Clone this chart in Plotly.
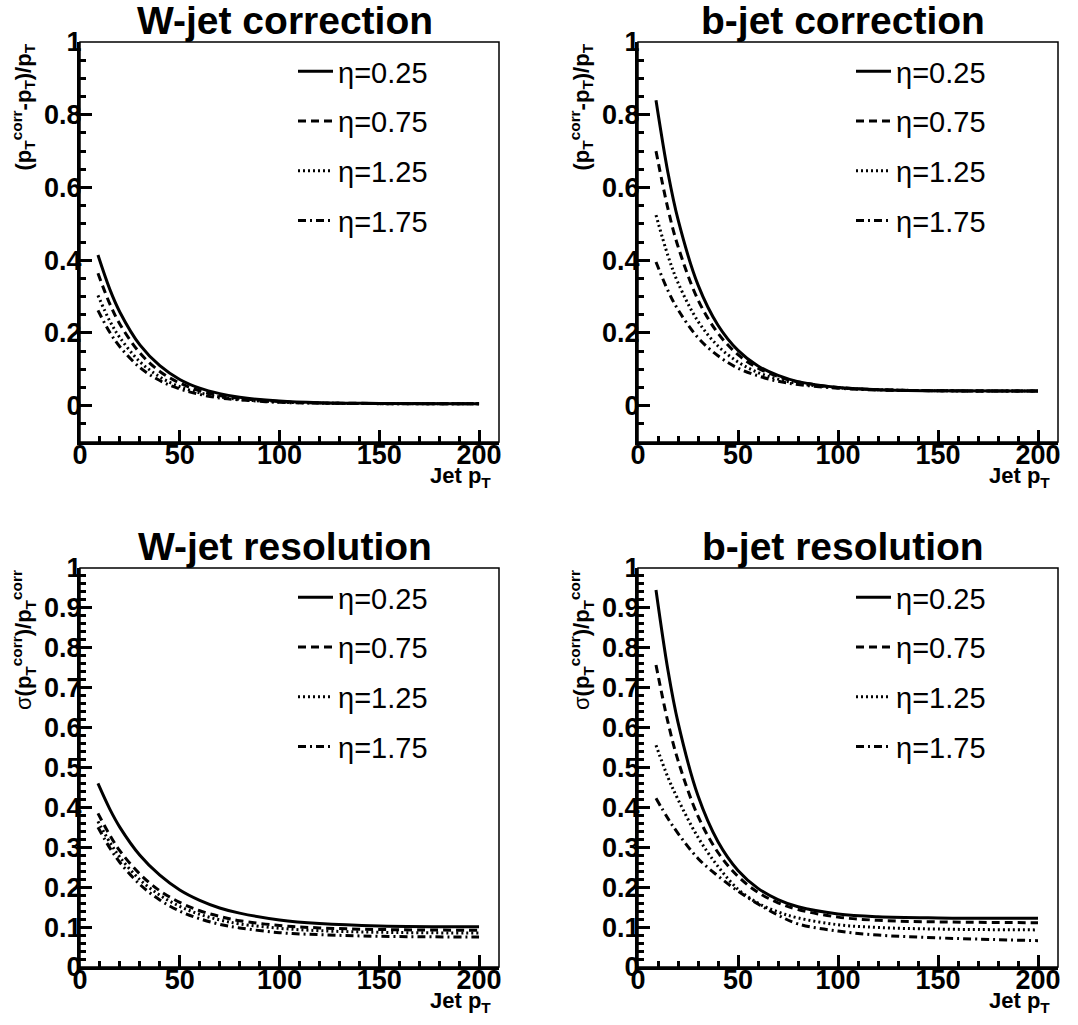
import plotly.graph_objects as go

# ---------------- data ----------------
pt = [9, 15, 20, 30, 40, 50, 60, 70, 80, 100, 120, 150, 200]
eta_labels = ["η=0.25", "η=0.75", "η=1.25", "η=1.75"]

# W-jet correction  (pT_corr - pT)/pT
wcorr_eta025 = [0.414, 0.319, 0.257, 0.167, 0.110, 0.072, 0.048, 0.033, 0.023, 0.0125, 0.008, 0.006, 0.005]
wcorr_eta075 = [0.364, 0.279, 0.224, 0.145, 0.094, 0.062, 0.041, 0.028, 0.020, 0.011, 0.0074, 0.006, 0.005]
wcorr_eta125 = [0.303, 0.232, 0.187, 0.121, 0.079, 0.052, 0.035, 0.024, 0.017, 0.010, 0.007, 0.0055, 0.005]
wcorr_eta175 = [0.262, 0.201, 0.162, 0.105, 0.069, 0.046, 0.031, 0.021, 0.016, 0.009, 0.007, 0.0055, 0.005]

# b-jet correction
bcorr_eta025 = [0.840, 0.640, 0.512, 0.332, 0.221, 0.152, 0.109, 0.083, 0.066, 0.050, 0.044, 0.041, 0.040]
bcorr_eta075 = [0.700, 0.541, 0.438, 0.291, 0.199, 0.140, 0.103, 0.080, 0.065, 0.050, 0.044, 0.041, 0.040]
bcorr_eta125 = [0.524, 0.412, 0.338, 0.232, 0.164, 0.120, 0.091, 0.073, 0.061, 0.049, 0.044, 0.041, 0.040]
bcorr_eta175 = [0.395, 0.316, 0.264, 0.187, 0.137, 0.103, 0.082, 0.067, 0.058, 0.048, 0.043, 0.041, 0.040]

# W-jet resolution  sigma(pT_corr)/pT_corr
wres_eta025 = [0.460, 0.395, 0.350, 0.280, 0.230, 0.193, 0.167, 0.148, 0.135, 0.118, 0.109, 0.103, 0.101]
wres_eta075 = [0.385, 0.330, 0.291, 0.233, 0.191, 0.162, 0.141, 0.127, 0.116, 0.104, 0.098, 0.094, 0.092]
wres_eta125 = [0.365, 0.312, 0.275, 0.219, 0.180, 0.152, 0.132, 0.118, 0.108, 0.097, 0.091, 0.087, 0.085]
wres_eta175 = [0.350, 0.298, 0.262, 0.207, 0.168, 0.140, 0.121, 0.107, 0.098, 0.086, 0.081, 0.077, 0.075]

# b-jet resolution
bres_eta025 = [0.945, 0.743, 0.613, 0.429, 0.314, 0.242, 0.197, 0.169, 0.151, 0.133, 0.126, 0.123, 0.122]
bres_eta075 = [0.757, 0.613, 0.518, 0.378, 0.287, 0.227, 0.187, 0.161, 0.144, 0.125, 0.117, 0.113, 0.111]
bres_eta125 = [0.556, 0.475, 0.420, 0.325, 0.252, 0.195, 0.160, 0.138, 0.123, 0.106, 0.099, 0.095, 0.093]
bres_eta175 = [0.423, 0.372, 0.335, 0.272, 0.228, 0.190, 0.158, 0.130, 0.108, 0.090, 0.080, 0.073, 0.066]

panel_titles = ["W-jet correction", "b-jet correction", "W-jet resolution", "b-jet resolution"]
x_title = "<b>Jet p<sub>T</sub></b>"
y_title_corr = "<b>(p<sub>T</sub><sup>corr</sup>-p<sub>T</sub>)/p<sub>T</sub></b>"
y_title_res = "σ<b>(p<sub>T</sub><sup>corr</sup>)/p<sub>T</sub><sup>corr</sup></b>"

panels = [
    [wcorr_eta025, wcorr_eta075, wcorr_eta125, wcorr_eta175],
    [bcorr_eta025, bcorr_eta075, bcorr_eta125, bcorr_eta175],
    [wres_eta025, wres_eta075, wres_eta125, wres_eta175],
    [bres_eta025, bres_eta075, bres_eta125, bres_eta175],
]

# ---------------- styling ----------------
W, H = 1078, 1025
FONT = "Liberation Sans, Arial, Helvetica, sans-serif"
dashes = ["solid", "8px,5px", "2px,3px", "8px,4px,2px,4px"]

# plot frames in pixels (left, right, top, bottom)
frames = [(80, 499, 42, 442), (638, 1058, 42, 442),
          (80, 499, 568, 967), (638, 1058, 568, 967)]

def px_x(p):
    return p / W

def px_y(p):
    return 1 - p / H

fig = go.Figure()

for i, series in enumerate(panels):
    n = "" if i == 0 else str(i + 1)
    leg = "legend" if i == 0 else "legend" + str(i + 1)
    for j, ys in enumerate(series):
        fig.add_trace(go.Scatter(
            x=pt, y=ys, mode="lines",
            line=dict(color="black", width=3, dash=dashes[j], shape="spline", smoothing=1.0),
            name=eta_labels[j], legend=leg, legendgroup=f"g{i}{j}",
            xaxis="x" + n, yaxis="y" + n, showlegend=True,
        ))

layout = dict(
    width=W, height=H,
    margin=dict(l=0, r=0, t=0, b=0, autoexpand=False),
    paper_bgcolor="white", plot_bgcolor="white",
    font=dict(family=FONT, color="black"),
    showlegend=True,
)

tickfont = dict(family=FONT, size=27, color="black", weight="bold")

for i, (l, r, t, b) in enumerate(frames):
    n = "" if i == 0 else str(i + 1)
    top_row = i < 2
    layout["xaxis" + n] = dict(
        domain=[px_x(l), px_x(r)], anchor="y" + n, range=[0, 210],
        tick0=0, dtick=50, ticks="inside", ticklen=12, tickwidth=2.5, tickcolor="black",
        minor=dict(dtick=10, tick0=0, ticks="inside", ticklen=6, tickwidth=2.5, tickcolor="black"),
        showline=True, linewidth=3, linecolor="black", mirror=False,
        showgrid=False, zeroline=False, tickfont=tickfont, fixedrange=True,
        ticklabelstandoff=-13,
    )
    layout["yaxis" + n] = dict(
        domain=[px_y(b), px_y(t)], anchor="x" + n,
        range=[-0.1, 1.0] if top_row else [0, 1.0],
        tick0=0, dtick=0.2 if top_row else 0.1,
        ticks="inside", ticklen=12, tickwidth=2.5, tickcolor="black",
        minor=dict(dtick=0.05 if top_row else 0.02, tick0=0, ticks="inside",
                   ticklen=6, tickwidth=2.5, tickcolor="black"),
        showline=True, linewidth=3, linecolor="black", mirror=False,
        showgrid=False, zeroline=False, tickfont=tickfont, fixedrange=True,
        ticklabelstandoff=-10,
    )
    legkey = "legend" if i == 0 else "legend" + str(i + 1)
    layout[legkey] = dict(
        x=px_x(l + 213), y=px_y(t + 4), xanchor="left", yanchor="top",
        bgcolor="rgba(0,0,0,0)", borderwidth=0,
        font=dict(family=FONT, size=29, color="black"),
        tracegroupgap=9, itemwidth=35,
    )

fig.update_layout(**layout)

shapes = []
annotations = []
for i, (l, r, t, b) in enumerate(frames):
    n = "" if i == 0 else str(i + 1)
    # thin frame around the plot
    shapes.append(dict(type="rect", xref=f"x{n} domain", yref=f"y{n} domain",
                       x0=0, x1=1, y0=0, y1=1, line=dict(color="black", width=1.5),
                       layer="above"))
    # panel title
    annotations.append(dict(text="<b>" + panel_titles[i] + "</b>", xref="paper", yref="paper",
                            x=px_x((l + r) / 2 - 5), y=px_y(t - 22), xanchor="center", yanchor="middle",
                            showarrow=False, font=dict(family=FONT, size=39, color="black")))
    # x axis title
    annotations.append(dict(text=x_title, xref="paper", yref="paper",
                            x=px_x(r - 6), y=px_y(b + 19), xanchor="right", yanchor="top",
                            showarrow=False, font=dict(family=FONT, size=22, color="black")))
    # y axis title
    annotations.append(dict(text=y_title_corr if i < 2 else y_title_res,
                            xref="paper", yref="paper",
                            x=px_x(l - 57), y=px_y(t), xanchor="center", yanchor="top",
                            textangle=-90, showarrow=False,
                            font=dict(family=FONT, size=22, color="black")))

fig.update_layout(shapes=shapes, annotations=annotations)

fig.write_html("out.html")
